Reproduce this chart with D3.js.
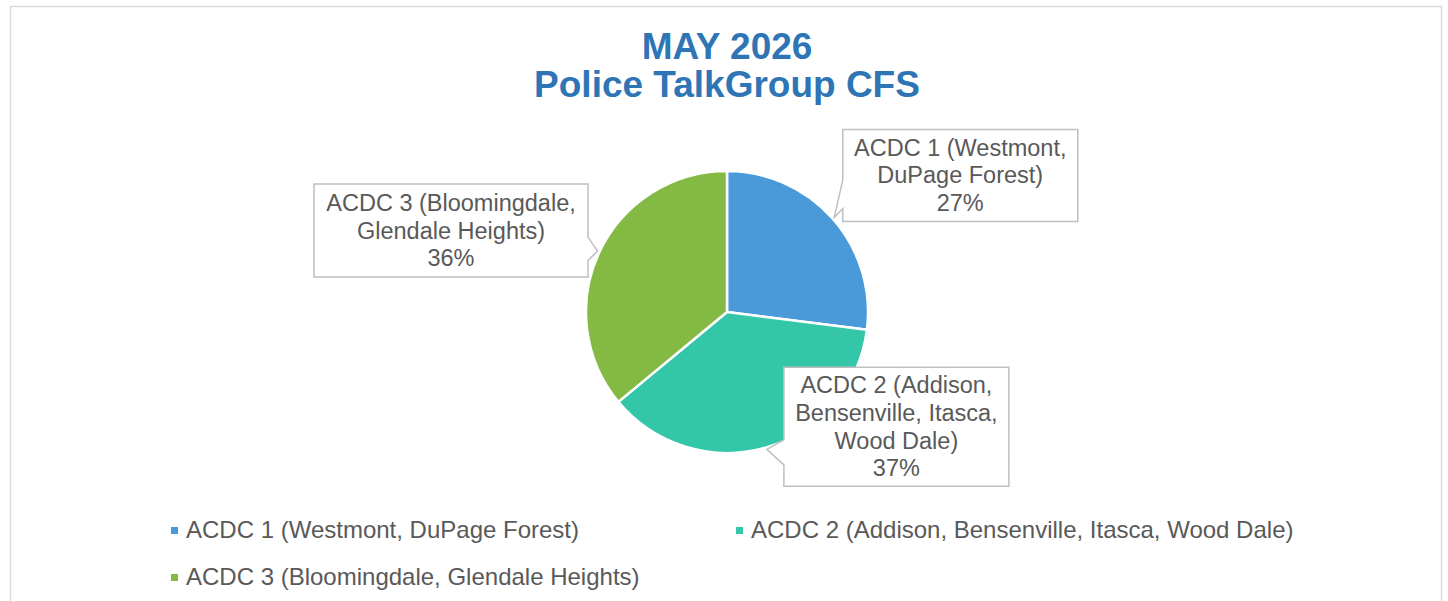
<!DOCTYPE html>
<html>
<head>
<meta charset="utf-8">
<script src="https://cdn.jsdelivr.net/npm/d3@7"></script>
<style>
  html, body { margin: 0; padding: 0; background: #ffffff; }
  svg { display: block; }
  text { font-family: "Liberation Sans", Arial, sans-serif; }
</style>
</head>
<body>
<svg id="chart" width="1448" height="601"></svg>
<script>
// ---- data ----
const titleLines = ["MAY 2026", "Police TalkGroup CFS"];
const categories = [
  "ACDC 1 (Westmont, DuPage Forest)",
  "ACDC 2 (Addison, Bensenville, Itasca, Wood Dale)",
  "ACDC 3 (Bloomingdale, Glendale Heights)"
];
const values = [27, 37, 36];
const labelLines = [
  ["ACDC 1 (Westmont,", "DuPage Forest)"],
  ["ACDC 2 (Addison,", "Bensenville, Itasca,", "Wood Dale)"],
  ["ACDC 3 (Bloomingdale,", "Glendale Heights)"]
];
const colors = ["#4A9ADA", "#33C6A9", "#84BA44"];

// ---- layout ----
const svg = d3.select("#chart");
const cx = 727, cy = 312, R = 141;
const textColor = "#595959";

// chart border
svg.append("rect")
  .attr("x", 10.5).attr("y", 6.5)
  .attr("width", 1431).attr("height", 620)
  .attr("fill", "none").attr("stroke", "#D9D9D9").attr("stroke-width", 1.5);

// title
svg.append("text")
  .attr("x", cx).attr("y", 59)
  .attr("text-anchor", "middle")
  .attr("font-size", 37).attr("font-weight", "bold")
  .attr("fill", "#2E75B6")
  .text(titleLines[0]);
svg.append("text")
  .attr("x", cx).attr("y", 97)
  .attr("text-anchor", "middle")
  .attr("font-size", 37).attr("font-weight", "bold")
  .attr("fill", "#2E75B6")
  .text(titleLines[1]);

// pie
const total = d3.sum(values);
const pie = d3.pie().sort(null).value(d => d)(values);
const arc = d3.arc().innerRadius(0).outerRadius(R);
const g = svg.append("g").attr("transform", `translate(${cx},${cy})`);
g.selectAll("path").data(pie).enter().append("path")
  .attr("d", arc)
  .attr("fill", (d, i) => colors[i])
  .attr("stroke", "#ffffff")
  .attr("stroke-width", 2.5)
  .attr("stroke-linejoin", "round");

// callout label layout (box offsets relative to pointer tip)
const boxLayout = [
  { dx: 8.5,    dy: -88, w: 235, h: 92,  side: "left",  b0: 0.55, b1: 0.86 },
  { dx: 17,     dy: -82, w: 225, h: 119, side: "left",  b0: 0.61, b1: 0.82 },
  { dx: -283.6, dy: -67, w: 274, h: 93,  side: "right", b0: 0.57, b1: 0.82 }
];
const lineH = 27.7;
const fmtPct = v => Math.round(v / total * 100) + "%";

pie.forEach((d, i) => {
  const mid = (d.startAngle + d.endAngle) / 2;
  const tr = R + 2;
  const tx = cx + tr * Math.sin(mid);
  const ty = cy - tr * Math.cos(mid);
  const L = boxLayout[i];
  const x0 = tx + L.dx, y0 = ty + L.dy, x1 = x0 + L.w, y1 = y0 + L.h;
  const yb0 = y0 + L.h * L.b0, yb1 = y0 + L.h * L.b1;
  let pts;
  if (L.side === "left") {
    pts = [[x0, y0], [x1, y0], [x1, y1], [x0, y1], [x0, yb1], [tx, ty], [x0, yb0]];
  } else {
    pts = [[x0, y0], [x1, y0], [x1, yb0], [tx, ty], [x1, yb1], [x1, y1], [x0, y1]];
  }
  svg.append("path")
    .attr("d", d3.line()(pts) + "Z")
    .attr("fill", "#ffffff")
    .attr("stroke", "#BFBFBF")
    .attr("stroke-width", 1.5)
    .attr("stroke-linejoin", "miter");
  const lines = labelLines[i].concat([fmtPct(values[i])]);
  const n = lines.length;
  const bcx = (x0 + x1) / 2, bcy = (y0 + y1) / 2;
  lines.forEach((t, k) => {
    svg.append("text")
      .attr("x", bcx)
      .attr("y", bcy + (k - (n - 1) / 2) * lineH + 8)
      .attr("text-anchor", "middle")
      .attr("font-size", 23.5)
      .attr("fill", textColor)
      .text(t);
  });
});

// legend
const legendPos = [
  { mx: 171, ty: 538 },
  { mx: 736, ty: 538 },
  { mx: 171, ty: 585 }
];
categories.forEach((c, i) => {
  const p = legendPos[i];
  svg.append("rect")
    .attr("x", p.mx).attr("y", p.ty - 11)
    .attr("width", 7).attr("height", 7)
    .attr("fill", colors[i]);
  svg.append("text")
    .attr("x", p.mx + 15).attr("y", p.ty)
    .attr("font-size", 24)
    .attr("fill", textColor)
    .text(c);
});
</script>
</body>
</html>
